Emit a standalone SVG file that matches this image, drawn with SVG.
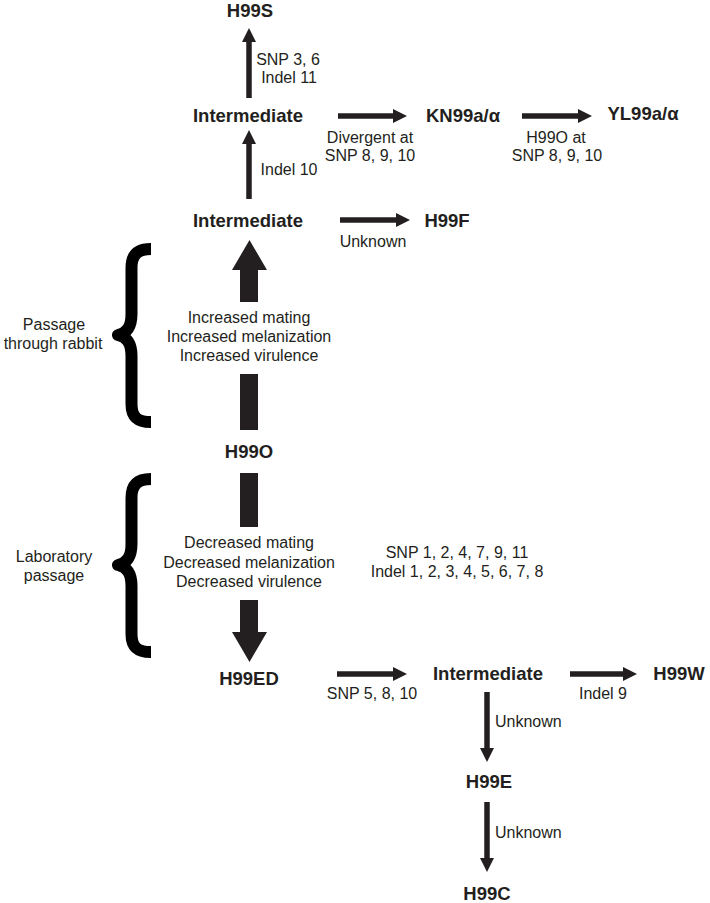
<svg xmlns="http://www.w3.org/2000/svg" width="710" height="903" viewBox="0 0 710 903">
<style>
.n{font-family:"Liberation Sans",Arial,sans-serif;font-weight:bold;font-size:18.5px;fill:#231f20;text-anchor:middle}
.l{font-family:"Liberation Sans",Arial,sans-serif;font-size:16px;fill:#231f20;text-anchor:middle}
.ls{font-family:"Liberation Sans",Arial,sans-serif;font-size:16px;fill:#231f20;text-anchor:start}
.a{stroke:#231f20;stroke-width:5.5;fill:none;marker-end:url(#ah)}
.t{fill:#231f20}
.br{fill:none;stroke:#000;stroke-width:12;stroke-linejoin:round}
</style>
<defs>
<marker id="ah" viewBox="0 0 14 14" refX="0" refY="7" markerWidth="14" markerHeight="14" markerUnits="userSpaceOnUse" orient="auto">
<path d="M0,0 L14,7 L0,14 z" fill="#231f20"/>
</marker>
<path id="brace" d="M151,249 C138,249 131.5,254 131.5,268 L131.5,314 C131.5,327 127,333 118,335 C127,337 131.5,343 131.5,356 L131.5,404 C131.5,418 138,422 151,422"/>
</defs>
<rect width="710" height="903" fill="#fff"/>
<g id="connectors">
<line class="a" x1="249" y1="98" x2="249" y2="42"/>
<line class="a" x1="249" y1="199" x2="249" y2="144"/>
<line class="a" x1="338" y1="116" x2="393" y2="116"/>
<line class="a" x1="522" y1="116" x2="578" y2="116"/>
<line class="a" x1="340" y1="220" x2="396" y2="220"/>
<path class="t" d="M249.5,240 L267,270 L258,270 L258,302 L240,302 L240,270 L232,270 Z"/>
<rect class="t" x="240" y="374" width="18" height="56"/>
<rect class="t" x="240" y="473" width="18" height="54"/>
<path class="t" d="M240,600 L258,600 L258,632 L267,632 L249.5,662 L232,632 L240,632 Z"/>
<line class="a" x1="337" y1="674" x2="393" y2="674"/>
<line class="a" x1="570" y1="674" x2="623" y2="674"/>
<line class="a" x1="487" y1="692" x2="487" y2="748"/>
<line class="a" x1="487" y1="802" x2="487" y2="858"/>
<text class="l" x="288" y="65">SNP 3, 6</text>
<text class="l" x="289" y="83">Indel 11</text>
<text class="l" x="289" y="175">Indel 10</text>
<text class="l" x="370" y="143">Divergent at</text>
<text class="l" x="370" y="161">SNP 8, 9, 10</text>
<text class="l" x="556" y="143">H99O at</text>
<text class="l" x="557" y="161">SNP 8, 9, 10</text>
<text class="l" x="373" y="247">Unknown</text>
<text class="l" x="249" y="323">Increased mating</text>
<text class="l" x="249" y="342">Increased melanization</text>
<text class="l" x="249" y="361">Increased virulence</text>
<text class="l" x="249" y="548">Decreased mating</text>
<text class="l" x="249" y="568">Decreased melanization</text>
<text class="l" x="249" y="587">Decreased virulence</text>
<text class="l" x="457" y="558">SNP 1, 2, 4, 7, 9, 11</text>
<text class="l" x="457" y="577">Indel 1, 2, 3, 4, 5, 6, 7, 8</text>
<text class="l" x="372" y="699">SNP 5, 8, 10</text>
<text class="l" x="603" y="699">Indel 9</text>
<text class="ls" x="495" y="727">Unknown</text>
<text class="ls" x="495" y="838">Unknown</text>
</g>
<g id="brace-rabbit">
<use href="#brace" class="br"/>
<text class="l" x="54" y="330">Passage</text>
<text class="l" x="53" y="349">through rabbit</text>
</g>
<g id="brace-lab">
<use href="#brace" class="br" transform="translate(0,230)"/>
<text class="l" x="54" y="562">Laboratory</text>
<text class="l" x="54" y="581">passage</text>
</g>
<g id="H99S"><text class="n" x="250" y="17">H99S</text></g>
<g id="intermediate-1"><text class="n" x="248" y="122">Intermediate</text></g>
<g id="KN99"><text class="n" x="463" y="122">KN99a/α</text></g>
<g id="YL99"><text class="n" x="643" y="120">YL99a/α</text></g>
<g id="intermediate-2"><text class="n" x="248" y="227">Intermediate</text></g>
<g id="H99F"><text class="n" x="447" y="227">H99F</text></g>
<g id="H99O"><text class="n" x="249" y="458">H99O</text></g>
<g id="H99ED"><text class="n" x="249" y="685">H99ED</text></g>
<g id="intermediate-3"><text class="n" x="488" y="680">Intermediate</text></g>
<g id="H99W"><text class="n" x="679" y="680">H99W</text></g>
<g id="H99E"><text class="n" x="489" y="788">H99E</text></g>
<g id="H99C"><text class="n" x="487" y="900">H99C</text></g>
</svg>
